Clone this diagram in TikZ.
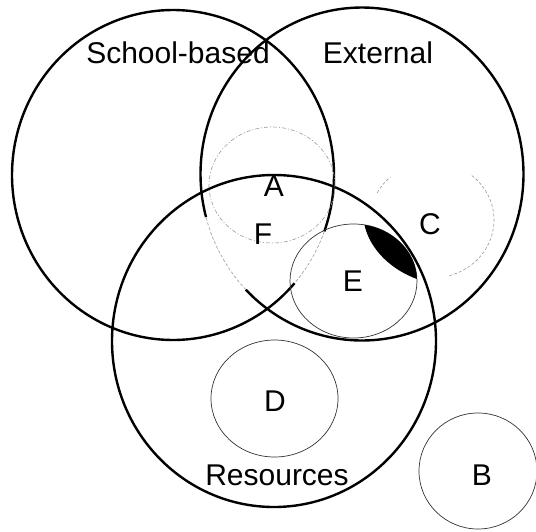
\documentclass[tikz,border=0pt]{standalone}
\usepackage{fontspec}
\setmainfont{Liberation Sans}
\begin{document}
\begin{tikzpicture}[x=1pt,y=-1pt,
  bigc/.style={line width=2.4pt, black},
  thinc/.style={line width=0.7pt, black!80},
  faint/.style={line width=0.6pt, black!40, dash pattern=on 3pt off 2pt},
  dotc/.style={line width=0.6pt, black!40, dash pattern=on 4pt off 2pt on 1pt off 2pt},
  lbl/.style={font=\fontsize{30}{36}\selectfont, inner sep=0pt, text=black},
  ]
\useasboundingbox (0,0) rectangle (536,531);
% Resources circle
\draw[bigc] (274,341) ellipse [x radius=162pt, y radius=166pt];
% School-based circle (black part and faint part inside the triple overlap)
\draw[bigc] plot[domain=41:380, samples=200] ({173+161*cos(\x)},{175+165*sin(\x)});
\draw[faint] plot[domain=20:41, samples=20] ({173+161*cos(\x)},{175+165*sin(\x)});
% External circle
\draw[bigc] plot[domain=165:496, samples=200] ({362+161.5*cos(\x)},{174+166.5*sin(\x)});
\draw[faint] plot[domain=136:165, samples=20] ({362+161.5*cos(\x)},{174+166.5*sin(\x)});
% A: dotted ellipse
\draw[dotc] (272,185) ellipse [x radius=63pt, y radius=58pt];
% C: faint dashed circle
\draw[faint] plot[domain=-50:75, samples=60] ({432+62*cos(\x)},{220+58*sin(\x)});
\draw[faint] plot[domain=-152:-132, samples=15] ({432+62*cos(\x)},{220+58*sin(\x)});
% E circle and black crescent
\draw[thinc] (353.5,281) ellipse [x radius=63.5pt, y radius=57pt];
\fill[black] plot[domain=-80:-2, samples=40] ({353.5+63.5*cos(\x)},{281+57*sin(\x)})
  .. controls (392,270) and (370,250) .. (364.5,225) -- cycle;
% D circle
\draw[thinc] (274.5,398.5) ellipse [x radius=63.5pt, y radius=58.5pt];
% B circle
\draw[thinc] (478,471) ellipse [x radius=59pt, y radius=58pt];
% labels
\node[lbl] (school) at (178,53) {School-based};
\node[lbl] (external) at (378,53) {External};
\node[lbl] (resources) at (277,475) {Resources};
\node[lbl] (la) at (274,186) {A};
\node[lbl] (lf) at (263,234) {F};
\node[lbl] (le) at (353,281) {E};
\node[lbl] (lc) at (430,224) {C};
\node[lbl] (ld) at (275,401) {D};
\node[lbl] (lb) at (482,475) {B};
\end{tikzpicture}
\end{document}
